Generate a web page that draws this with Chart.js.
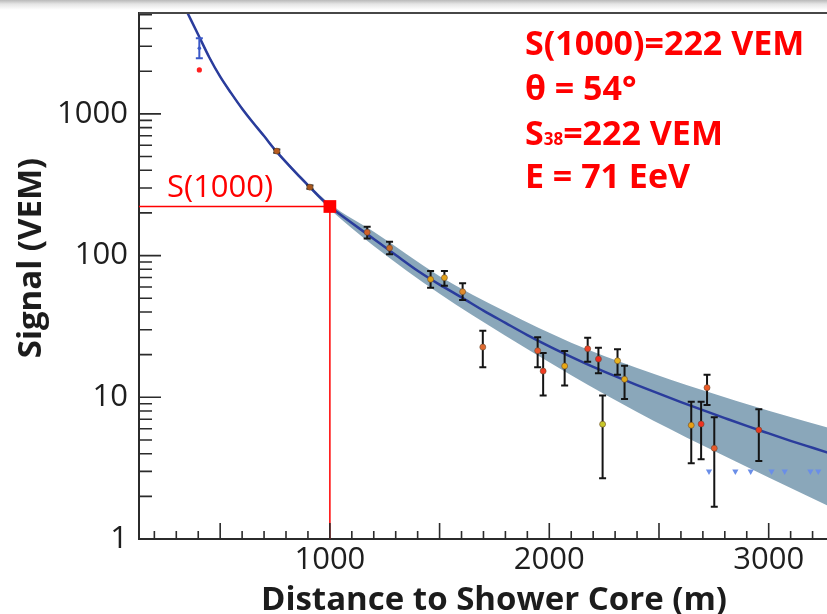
<!DOCTYPE html>
<html>
<head>
<meta charset="utf-8">
<script src="https://cdn.jsdelivr.net/npm/chart.js@4.4.0/dist/chart.umd.min.js"></script>
<style>
  html, body { margin: 0; padding: 0; overflow: hidden; }
  body { width: 827px; height: 614px; background: linear-gradient(#b9b9b9 0px, #e4e4e4 4px, #ffffff 10px); }
  #wrap { width: 849px; height: 614px; }
</style>
</head>
<body>
<div id="wrap"><canvas id="ldfChart" width="849" height="614"></canvas></div>
<script>
// axis ranges and tick labels
const xMin = 130, xMax = 3325;
const yMin = 1, yMax = 5150;
const xTickLabels = [1000, 2000, 3000];
const yTickLabels = [1, 10, 100, 1000];
const xTitle = 'Distance to Shower Core (m)';
const yTitle = 'Signal (VEM)';

// fitted lateral distribution function
const ldfR = [350, 400, 450, 500, 550, 600, 650, 700, 750, 800, 850, 900, 950, 1000, 1100, 1200, 1300, 1400, 1500, 1600,
  1700, 1800, 1900, 2000, 2100, 2200, 2300, 2400, 2500, 2600, 2700, 2800, 2900, 3000, 3100, 3200, 3330];
const ldfS = [5200, 3620, 2510, 1830, 1400, 1087, 865, 697, 557, 456, 377, 314, 262, 222, 170, 131, 101, 78.2, 62.4, 50.7,
  40.9, 33.5, 27.5, 22.9, 19.3, 16.4, 14.1, 12.2, 10.6, 9.25, 8.11, 7.13, 6.28, 5.56, 4.93, 4.40, 3.8];

// uncertainty band of the fit
const bandR  = [350, 500, 700, 800, 900, 1000, 1200, 1500, 1800, 2100, 2400, 2700, 3000, 3330];
const bandHi = [5300, 1870, 712, 468, 323, 232, 147, 71.6, 40.3, 24.3, 16.1, 11.2, 8.04, 5.75];
const bandLo = [5100, 1790, 683, 445, 305, 212, 117, 53.7, 27.2, 14.3, 7.87, 4.56, 2.72, 1.55];

// triggered stations
const stR  = [758, 909, 1170, 1272, 1459, 1522, 1605, 1697, 1947, 1972, 2070, 2175, 2224, 2243, 2311, 2343, 2647, 2692, 2719, 2752, 2955];
const stS  = [546, 304, 146, 113, 68.0, 69.8, 55.6, 22.6, 21.3, 15.3, 16.6, 22.0, 18.6, 6.46, 18.1, 13.4, 6.35, 6.48, 11.7, 4.37, 5.88];
const stHi = [560, 312, 160, 125, 77.9, 77.9, 63.8, 29.5, 26.5, 20.5, 21.2, 26.3, 22.4, 10.3, 21.8, 16.7, 9.3, 9.3, 14.4, 7.22, 8.23];
const stLo = [532, 296, 132, 102, 59.3, 61.3, 48.6, 16.3, 16.3, 10.3, 12.1, 17.8, 14.8, 2.68, 14.4, 9.73, 3.42, 3.65, 8.83, 1.69, 3.55];
const stColor = ['#b85a1e', '#a8561c', '#d0602a', '#c86a28', '#e0a010', '#e3a21a', '#e08a2a', '#e06a30', '#e8552a', '#f03c22',
  '#e8a814', '#f04428', '#f02a1e', '#c8c82a', '#e8b41e', '#e0a818', '#e8a012', '#f03222', '#ec5a26', '#e85a2a', '#e83a22'];

// saturated station and its recovered signal
const satR = [405], satS = [2904], satHi = [3417], satLo = [2467];
const recS = [2042];

// non-triggered stations (upper limits)
const limR = [2728, 2848, 2918, 3013, 3073, 3190, 3226];
const limS = [3, 3, 3, 3, 3, 3, 3];

// reference signal at 1000 m
const s1000 = 222;
const infoLines = ['S(1000)=222 VEM', '\u03b8 = 54\u00b0', ['S', '38', '=222 VEM'], 'E = 71 EeV'];

const fam = '"Open Sans", "DejaVu Sans", sans-serif';
const xy = (xs, ys) => xs.map((v, i) => ({ x: v, y: ys[i] }));

// error bars drawn just before their dataset
const errorBars = {
  id: 'errorBars',
  beforeDatasetDraw(chart, args) {
    const ds = chart.data.datasets[args.index];
    if (!ds.errHi) return;
    const { ctx, scales: { x, y } } = chart;
    ctx.save();
    ctx.strokeStyle = ds.errColor;
    ctx.lineWidth = 2;
    ctx.beginPath();
    ds.data.forEach((p, i) => {
      const px = x.getPixelForValue(p.x);
      const top = y.getPixelForValue(ds.errHi[i]);
      const bot = y.getPixelForValue(ds.errLo[i]);
      ctx.moveTo(px, top); ctx.lineTo(px, bot);
      ctx.moveTo(px - 3.5, top); ctx.lineTo(px + 3.5, top);
      ctx.moveTo(px - 3.5, bot); ctx.lineTo(px + 3.5, bot);
    });
    ctx.stroke();
    ctx.restore();
  }
};

// inward tick marks and the top frame line
const innerTicks = {
  id: 'innerTicks',
  afterDatasetsDraw(chart) {
    const { ctx, chartArea: a, scales: { x, y } } = chart;
    ctx.save();
    ctx.strokeStyle = '#2b2b2b';
    ctx.lineWidth = 1.6;
    ctx.beginPath();
    for (let d = 1; d <= yMax; d *= 10) {
      for (let m = 1; m < 10; m++) {
        const v = m * d;
        if (v > yMax) break;
        const py = y.getPixelForValue(v);
        ctx.moveTo(a.left, py); ctx.lineTo(a.left + (m === 1 ? 22 : 13), py);
      }
    }
    for (let v = Math.ceil(xMin / 100) * 100; v <= xMax; v += 100) {
      const px = x.getPixelForValue(v);
      ctx.moveTo(px, a.bottom); ctx.lineTo(px, a.bottom - (v % 500 === 0 ? 16 : 8));
    }
    ctx.stroke();
    ctx.strokeStyle = '#474747';
    ctx.lineWidth = 2;
    ctx.beginPath();
    ctx.moveTo(a.left, a.top); ctx.lineTo(a.right, a.top);
    ctx.stroke();
    ctx.restore();
  }
};

// axis titles and the red annotations
const textLayer = {
  id: 'textLayer',
  afterDraw(chart) {
    const { ctx } = chart;
    ctx.save();
    ctx.fillStyle = '#1c1c1c';
    ctx.font = 'bold 33px ' + fam;
    ctx.textAlign = 'center';
    ctx.textBaseline = 'alphabetic';
    ctx.fillText(xTitle, 494, 610);
    ctx.save();
    ctx.translate(41, 258);
    ctx.rotate(-Math.PI / 2);
    ctx.fillText(yTitle, 0, 0);
    ctx.restore();

    ctx.fillStyle = '#ff0000';
    ctx.textAlign = 'left';
    ctx.font = '31px ' + fam;
    ctx.fillText('S(1000)', 167, 197);

    const x0 = 525, base = [55, 100, 144.5, 188];
    infoLines.forEach((line, i) => {
      ctx.font = 'bold 34px ' + fam;
      if (Array.isArray(line)) {
        let cx = x0;
        ctx.fillText(line[0], cx, base[i]);
        cx += ctx.measureText(line[0]).width;
        ctx.font = 'bold 17px ' + fam;
        ctx.fillText(line[1], cx, base[i]);
        cx += ctx.measureText(line[1]).width;
        ctx.font = 'bold 34px ' + fam;
        ctx.fillText(line[2], cx, base[i]);
      } else {
        ctx.fillText(line, x0, base[i]);
      }
    });
    ctx.restore();
  }
};

new Chart(document.getElementById('ldfChart'), {
  type: 'scatter',
  data: {
    datasets: [
      { label: 'band hi', data: xy(bandR, bandHi), showLine: true, borderWidth: 0, pointRadius: 0,
        cubicInterpolationMode: 'monotone', fill: false, order: 7 },
      { label: 'band lo', data: xy(bandR, bandLo), showLine: true, borderWidth: 0, pointRadius: 0,
        cubicInterpolationMode: 'monotone', fill: '-1', backgroundColor: '#8aa7ba', order: 6 },
      { label: 'LDF fit', data: xy(ldfR, ldfS), showLine: true, borderColor: '#2a3c9c', borderWidth: 2.5,
        pointRadius: 0, cubicInterpolationMode: 'monotone', order: 5 },
      { label: 'S(1000) guide', data: [{ x: xMin, y: s1000 }, { x: 1000, y: s1000 }, { x: 1000, y: yMin }],
        showLine: true, borderColor: '#ff0000', borderWidth: 1.5, pointRadius: 0, order: 4 },
      { label: 'S(1000)', data: [{ x: 1000, y: s1000 }], pointStyle: 'rect', pointRadius: 9,
        backgroundColor: '#ff0000', borderWidth: 0, order: 3 },
      { label: 'upper limits', data: xy(limR, limS), pointStyle: 'triangle', rotation: 180, pointRadius: 3.6,
        backgroundColor: '#6a8ee8', borderWidth: 0, order: 3 },
      { label: 'saturated', data: xy(satR, satS), pointRadius: 1.8, backgroundColor: '#3a58c8', borderWidth: 0,
        errHi: satHi, errLo: satLo, errColor: '#3a58c8', order: 2 },
      { label: 'recovered', data: xy(satR, recS), pointRadius: 2.6, backgroundColor: '#ff2020', borderWidth: 0, order: 2 },
      { label: 'stations', data: xy(stR, stS), pointRadius: 3, backgroundColor: stColor, borderColor: '#6a4a30',
        borderWidth: 0.6, errHi: stHi, errLo: stLo, errColor: '#141414', order: 1 }
    ]
  },
  options: {
    responsive: false,
    animation: false,
    devicePixelRatio: 1,
    events: [],
    layout: { padding: { top: 13, left: 0, right: 0, bottom: 0 } },
    plugins: { legend: { display: false }, tooltip: { enabled: false } },
    scales: {
      x: {
        type: 'linear', min: xMin, max: xMax,
        grid: { display: false, drawTicks: false },
        border: { display: true, color: '#2b2b2b', width: 2 },
        afterBuildTicks: s => { s.ticks = xTickLabels.map(v => ({ value: v })); },
        afterFit: s => { s.height = 75; s.paddingLeft = 0; s.paddingRight = 0; },
        ticks: { padding: 3, color: '#1e1e1e', font: { family: fam, size: 31 }, callback: v => String(v) }
      },
      y: {
        type: 'logarithmic', min: yMin, max: yMax,
        grid: { display: false, drawTicks: false },
        border: { display: true, color: '#2b2b2b', width: 2 },
        afterBuildTicks: s => { s.ticks = yTickLabels.map(v => ({ value: v })); },
        afterFit: s => { s.width = 139; s.paddingTop = 0; s.paddingBottom = 0; },
        ticks: { padding: 11, color: '#1e1e1e', font: { family: fam, size: 31 }, callback: v => String(v) }
      }
    }
  },
  plugins: [errorBars, innerTicks, textLayer]
});
</script>
</body>
</html>
